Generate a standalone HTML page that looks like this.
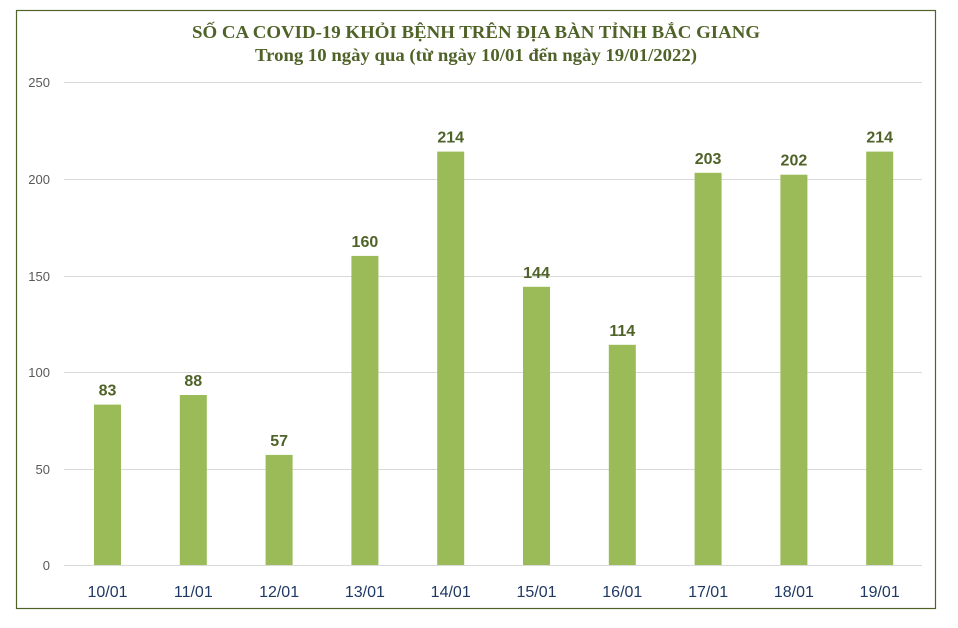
<!DOCTYPE html><html><head><style>body{margin:0;background:#fff}svg{display:block}</style></head><body>
<svg width="958" height="628" xmlns="http://www.w3.org/2000/svg">
<rect x="16.5" y="10.5" width="919" height="598" fill="#fff" stroke="#4F6228" stroke-width="1.2"/>
<g font-family="Liberation Serif,serif" font-weight="bold" fill="#4F6228" text-anchor="middle">
<text x="476" y="38" font-size="18" textLength="568" lengthAdjust="spacingAndGlyphs">SỐ CA COVID-19 KHỎI BỆNH  TRÊN ĐỊA BÀN TỈNH BẮC GIANG</text>
<text x="476" y="61" font-size="18" textLength="442" lengthAdjust="spacingAndGlyphs">Trong 10 ngày qua (từ ngày 10/01 đến ngày 19/01/2022)</text>
</g>
<g stroke="#d9d9d9" stroke-width="1">
<line x1="64" x2="922" y1="82.5" y2="82.5"/><line x1="64" x2="922" y1="179.5" y2="179.5"/><line x1="64" x2="922" y1="276.5" y2="276.5"/><line x1="64" x2="922" y1="372.5" y2="372.5"/><line x1="64" x2="922" y1="469.5" y2="469.5"/><line x1="64" x2="922" y1="565.5" y2="565.5"/>
</g>
<g font-family="Liberation Sans,sans-serif" font-size="13" fill="#595959" text-anchor="end">
<text x="50" y="87">250</text><text x="50" y="184">200</text><text x="50" y="281">150</text><text x="50" y="377">100</text><text x="50" y="474">50</text><text x="50" y="570">0</text>
</g>
<g fill="#9BBB59">
<rect x="94" y="404.6" width="27" height="160.4"/>
<rect x="179.8" y="395" width="27" height="170"/>
<rect x="265.6" y="454.9" width="27" height="110.1"/>
<rect x="351.4" y="255.9" width="27" height="309.1"/>
<rect x="437.2" y="151.6" width="27" height="413.4"/>
<rect x="523" y="286.8" width="27" height="278.2"/>
<rect x="608.8" y="344.8" width="27" height="220.2"/>
<rect x="694.6" y="172.8" width="27" height="392.2"/>
<rect x="780.4" y="174.7" width="27" height="390.3"/>
<rect x="866.2" y="151.6" width="27" height="413.4"/>
</g>
<g font-family="Liberation Sans,sans-serif" font-weight="bold" font-size="16" fill="#4F6228" text-anchor="middle">
<text x="107.5" y="395.6">83</text><text x="193.3" y="386">88</text><text x="279.1" y="445.9">57</text><text x="364.9" y="246.9">160</text><text x="450.7" y="142.6">214</text><text x="536.5" y="277.8">144</text><text x="622.3" y="335.8">114</text><text x="708.1" y="163.8">203</text><text x="793.9" y="165.7">202</text><text x="879.7" y="142.6">214</text>
</g>
<g font-family="Liberation Sans,sans-serif" font-size="16" fill="#1F3864" text-anchor="middle">
<text x="107.5" y="597">10/01</text><text x="193.3" y="597">11/01</text><text x="279.1" y="597">12/01</text><text x="364.9" y="597">13/01</text><text x="450.7" y="597">14/01</text><text x="536.5" y="597">15/01</text><text x="622.3" y="597">16/01</text><text x="708.1" y="597">17/01</text><text x="793.9" y="597">18/01</text><text x="879.7" y="597">19/01</text>
</g>
</svg></body></html>
